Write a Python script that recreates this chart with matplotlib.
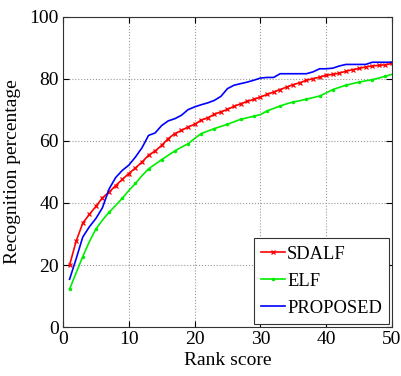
import matplotlib
matplotlib.use("Agg")
import matplotlib.pyplot as plt

ranks = list(range(1, 51))
sdalf = [20.0, 27.7, 33.5, 36.3, 38.9, 41.7, 43.5, 45.6, 47.6, 49.5,
         51.3, 53.2, 55.4, 56.8, 58.6, 60.8, 62.4, 63.4, 64.5, 65.4,
         66.7, 67.5, 68.6, 69.4, 70.2, 71.2, 72.0, 72.8, 73.4, 74.2,
         75.0, 75.8, 76.6, 77.4, 78.2, 78.8, 79.6, 80.1, 80.6, 81.2,
         81.5, 81.9, 82.5, 83.0, 83.4, 83.9, 84.2, 84.4, 84.6, 85.0]
elf = [12.2, 17.5, 22.7, 27.5, 31.6, 34.5, 37.0, 39.2, 41.5, 44.0,
       46.3, 48.8, 51.0, 52.5, 54.0, 55.4, 56.8, 58.0, 59.1, 60.8,
       62.4, 63.2, 64.0, 64.7, 65.4, 66.2, 67.0, 67.5, 68.0, 68.5,
       69.7, 70.5, 71.3, 72.0, 72.6, 73.0, 73.5, 74.0, 74.5, 75.5,
       76.6, 77.3, 78.0, 78.5, 79.0, 79.4, 79.8, 80.3, 80.9, 81.5]
proposed = [15.4, 22.0, 29.0, 32.3, 35.0, 38.5, 44.5, 48.2, 50.5, 52.2,
            54.8, 57.8, 61.8, 62.6, 65.0, 66.5, 67.2, 68.3, 70.1, 71.0,
            71.7, 72.3, 73.1, 74.4, 76.9, 78.0, 78.5, 79.0, 79.6, 80.3,
            80.5, 80.5, 81.7, 81.7, 81.7, 81.7, 81.7, 82.3, 83.3, 83.3,
            83.5, 84.2, 84.7, 84.7, 84.7, 84.7, 85.4, 85.4, 85.4, 85.4]
labels = ["SDALF", "ELF", "PROPOSED"]

plt.rcParams['font.family'] = ['Liberation Serif', 'DejaVu Serif']
fig = plt.figure(figsize=(4.02, 3.76), dpi=100)
ax = fig.add_axes([63/402, 1-327/376, 329/402, 310/376])

ax.plot(ranks, sdalf, color='#ff0000', lw=1.2, marker='x', ms=3.5, mew=0.9, label=labels[0])
ax.plot(ranks, elf, color='#00ee00', lw=1.2, marker='.', ms=3, markevery=2, label=labels[1])
ax.plot(ranks, proposed, color='#0000ff', lw=1.2, label=labels[2])

ax.set_xlim(0, 50)
ax.set_ylim(0, 100)
ax.set_xticks([0, 10, 20, 30, 40, 50])
ax.set_yticks([0, 20, 40, 60, 80, 100])
ax.grid(True, linestyle=':', color='#999999', lw=0.8)
ax.tick_params(direction='in', top=True, right=True, labelsize=14, length=4, pad=3)
for s in ax.spines.values():
    s.set_linewidth(0.8)
    s.set_color('#333333')
ax.set_xlabel("Rank score", fontsize=14, labelpad=3)
ax.set_ylabel("Recognition percentage", fontsize=14, labelpad=6)

leg = ax.legend(loc='lower right', fontsize=13.3, fancybox=False, framealpha=1,
                edgecolor='#333333', borderaxespad=0.15, handlelength=1.3,
                handletextpad=0.1, borderpad=0.4, labelspacing=0.55)
leg.get_frame().set_linewidth(0.8)

fig.savefig("out.png", dpi=100)
